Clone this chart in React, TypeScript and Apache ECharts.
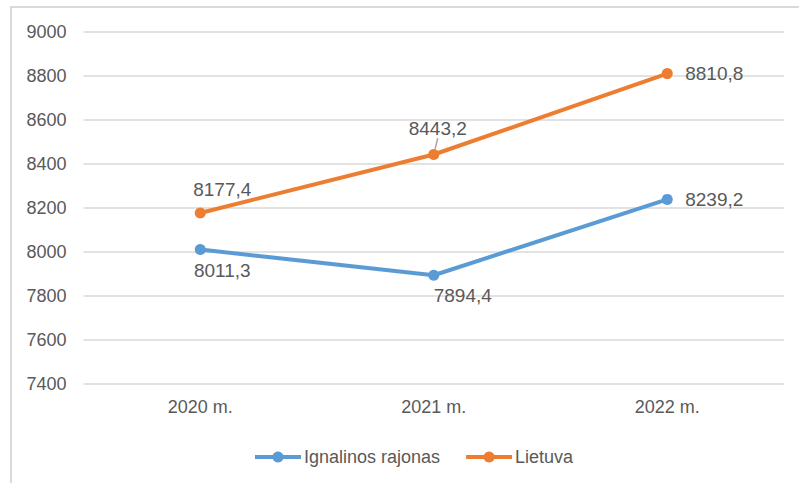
import React, { useEffect, useRef } from "react";
import * as echarts from "echarts";

const categories = ["2020 m.", "2021 m.", "2022 m."];
const ignalinaValues = [8011.3, 7894.4, 8239.2];
const lietuvaValues = [8177.4, 8443.2, 8810.8];
const seriesNames = ["Ignalinos rajonas", "Lietuva"];

const FONT = "'Liberation Sans', Arial, sans-serif";
const TEXT = "#595959";

const blueOffsets = [[22, 21], [29, 20], [47, 0]];
const orangeOffsets = [[22, -23], [4, -26], [47, 0]];

function fmt(v: number) {
  return v.toFixed(1).replace(".", ",");
}

function buildData(values: number[], offsets: number[][], leaderIndex: number) {
  return values.map((v, i) => ({
    value: v,
    label: {
      show: true,
      position: "inside",
      offset: offsets[i],
      formatter: fmt(v),
      color: TEXT,
      fontSize: 19,
      fontFamily: FONT,
    },
    labelLine: {
      show: i === leaderIndex,
      length2: 0,
      lineStyle: { color: "#a6a6a6", width: 1.5 },
    },
  }));
}

export default function App() {
  const ref = useRef<HTMLDivElement>(null);
  useEffect(() => {
    if (!ref.current) return;
    const chart = echarts.init(ref.current, null, { renderer: "svg" });
    chart.setOption({
      animation: false,
      grid: { left: 83.5, right: 15, top: 32, bottom: 99 },
      legend: {
        left: 248,
        top: 443,
        itemWidth: 46,
        itemHeight: 14,
        itemGap: 24,
        lineStyle: { width: 4 },
        textStyle: { color: TEXT, fontSize: 18, fontFamily: FONT, padding: [0, 0, 0, -2] },
        data: seriesNames,
      },
      xAxis: {
        type: "category",
        data: categories,
        boundaryGap: true,
        axisLine: { show: false },
        axisTick: { show: false },
        axisLabel: { color: TEXT, fontSize: 18, fontFamily: FONT, margin: 14 },
      },
      yAxis: {
        type: "value",
        min: 7400,
        max: 9000,
        interval: 200,
        axisLine: { show: false },
        axisTick: { show: false },
        axisLabel: { color: TEXT, fontSize: 18, fontFamily: FONT, margin: 17, formatter: (v: number) => String(v) },
        splitLine: { lineStyle: { color: "#d9d9d9", width: 1.5 } },
      },
      series: [
        {
          name: seriesNames[0],
          type: "line",
          data: buildData(ignalinaValues, blueOffsets, -1),
          color: "#5B9BD5",
          lineStyle: { width: 4, color: "#5B9BD5" },
          symbol: "circle",
          symbolSize: 11,
          itemStyle: { color: "#5B9BD5" },
        },
        {
          name: seriesNames[1],
          type: "line",
          data: buildData(lietuvaValues, orangeOffsets, 1),
          color: "#ED7D31",
          lineStyle: { width: 4, color: "#ED7D31" },
          symbol: "circle",
          symbolSize: 11,
          itemStyle: { color: "#ED7D31" },
        },
      ],
    });
    return () => chart.dispose();
  }, []);
  return (
    <div style={{ position: "fixed", left: 0, top: 0, width: 799, height: 483, overflow: "hidden", background: "#fff" }}>
      <div style={{ position: "absolute", left: 10, top: 6, width: 800, height: 500, border: "2px solid #d9d9d9", boxSizing: "border-box" }} />
      <div ref={ref} style={{ position: "absolute", left: 0, top: 0, width: 799, height: 483 }} />
    </div>
  );
}
